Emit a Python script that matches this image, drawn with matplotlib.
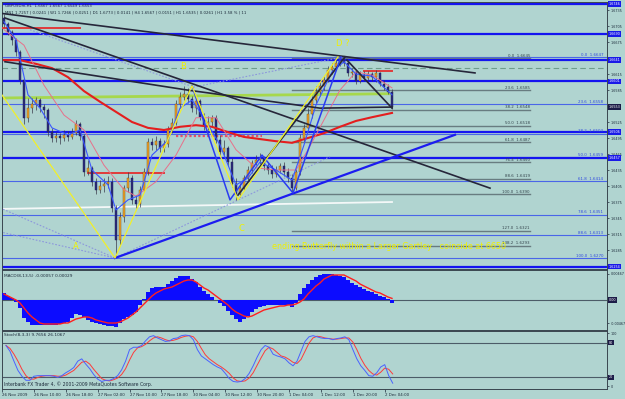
import matplotlib
matplotlib.use('Agg')
import matplotlib.pyplot as plt

plt.rcParams['font.family'] = 'DejaVu Sans'

BG = '#b0d4d0'
TXT = '#1c2a3a'

# GBPUSD H1, 26 Nov - 2 Dec 2009
first_open = 1.6720
closes = [1.6709, 1.6694, 1.6679, 1.6656, 1.6604, 1.6533, 1.6551, 1.6559, 1.6566, 1.6553,
          1.6548, 1.6506, 1.6495, 1.6499, 1.6495, 1.6501, 1.6497, 1.6504, 1.6521, 1.6499,
          1.6431, 1.6439, 1.6413, 1.6398, 1.6405, 1.6409, 1.6413, 1.6364, 1.6304, 1.6347,
          1.6401, 1.6420, 1.6379, 1.6371, 1.6398, 1.6431, 1.6488, 1.6482, 1.6489, 1.6476,
          1.6484, 1.6510, 1.6523, 1.6559, 1.6572, 1.6578, 1.6568, 1.6551, 1.6564, 1.6534,
          1.6518, 1.6525, 1.6533, 1.6491, 1.6469, 1.6476, 1.6450, 1.6409, 1.6390, 1.6401,
          1.6420, 1.6435, 1.6448, 1.6454, 1.6458, 1.6443, 1.6435, 1.6428, 1.6435, 1.6443,
          1.6431, 1.6420, 1.6401, 1.6431, 1.6495, 1.6514, 1.6540, 1.6566, 1.6581, 1.6593,
          1.6604, 1.6623, 1.6628, 1.6636, 1.6639, 1.6636, 1.6617, 1.6619, 1.6602, 1.6613,
          1.6608, 1.6615, 1.6609, 1.6617, 1.6596, 1.6591, 1.6581, 1.6553]
highs = [1.6728, 1.6713, 1.6698, 1.6683, 1.6660, 1.6608, 1.6570, 1.6570, 1.6572, 1.6570,
         1.6559, 1.6551, 1.6514, 1.6506, 1.6504, 1.6510, 1.6508, 1.6514, 1.6529, 1.6525,
         1.6503, 1.6454, 1.6443, 1.6420, 1.6416, 1.6420, 1.6424, 1.6420, 1.6369, 1.6356,
         1.6407, 1.6431, 1.6426, 1.6388, 1.6405, 1.6439, 1.6495, 1.6495, 1.6499, 1.6495,
         1.6491, 1.6518, 1.6533, 1.6566, 1.6581, 1.6593, 1.6589, 1.6574, 1.6570, 1.6568,
         1.6542, 1.6536, 1.6538, 1.6538, 1.6501, 1.6491, 1.6480, 1.6458, 1.6420, 1.6411,
         1.6426, 1.6443, 1.6454, 1.6463, 1.6467, 1.6461, 1.6450, 1.6444, 1.6443, 1.6448,
         1.6450, 1.6439, 1.6428, 1.6439, 1.6503, 1.6521, 1.6551, 1.6574, 1.6593, 1.6600,
         1.6611, 1.6630, 1.6636, 1.6641, 1.6647, 1.6647, 1.6641, 1.6626, 1.6623, 1.6621,
         1.6621, 1.6621, 1.6619, 1.6623, 1.6619, 1.6604, 1.6596, 1.6587]
lows = [1.6703, 1.6688, 1.6669, 1.6649, 1.6596, 1.6521, 1.6525, 1.6542, 1.6548, 1.6544,
        1.6533, 1.6499, 1.6488, 1.6488, 1.6484, 1.6489, 1.6489, 1.6493, 1.6501, 1.6491,
        1.6424, 1.6426, 1.6405, 1.6390, 1.6392, 1.6394, 1.6401, 1.6356, 1.6272, 1.6294,
        1.6338, 1.6394, 1.6371, 1.6364, 1.6366, 1.6394, 1.6426, 1.6473, 1.6473, 1.6469,
        1.6469, 1.6478, 1.6504, 1.6519, 1.6551, 1.6566, 1.6561, 1.6544, 1.6540, 1.6529,
        1.6510, 1.6510, 1.6518, 1.6486, 1.6461, 1.6463, 1.6443, 1.6403, 1.6379, 1.6384,
        1.6398, 1.6416, 1.6429, 1.6444, 1.6446, 1.6435, 1.6428, 1.6420, 1.6422, 1.6429,
        1.6424, 1.6413, 1.6392, 1.6398, 1.6426, 1.6488, 1.6506, 1.6533, 1.6561, 1.6574,
        1.6585, 1.6600, 1.6615, 1.6623, 1.6630, 1.6630, 1.6611, 1.6609, 1.6596, 1.6598,
        1.6602, 1.6604, 1.6602, 1.6600, 1.6593, 1.6585, 1.6578, 1.6549]
opens = [first_open] + closes[:-1]
bars = list(range(len(closes)))

# moving averages (sampled)
slow_ma_bars = [0, 4, 8, 12, 16, 20, 24, 28, 32, 36, 40, 44, 48, 52, 56, 60, 64, 68, 72, 76, 80, 84, 88, 92, 97]
slow_ma = [1.6641, 1.6641, 1.6634, 1.6626, 1.6609, 1.6583, 1.6563, 1.6544, 1.6525, 1.6514, 1.6510, 1.6516, 1.6519,
           1.6516, 1.6506, 1.6497, 1.6493, 1.6489, 1.6486, 1.6495, 1.6504, 1.6516, 1.6527, 1.6534, 1.6542]
red_ma_bars = [0, 5, 10, 15, 20, 25, 30, 33, 38, 43, 48, 53, 58, 63, 68, 73, 76, 80, 84, 88, 92, 97]
red_ma = [1.6698, 1.6669, 1.6594, 1.6538, 1.6510, 1.6444, 1.6398, 1.6386, 1.6413, 1.6463, 1.6533,
          1.6533, 1.6473, 1.6439, 1.6435, 1.6435, 1.6473, 1.6529, 1.6585, 1.6619, 1.6613, 1.6589]
blue_ma_bars = [0, 3, 6, 9, 12, 16, 19, 22, 26, 28, 31, 34, 37, 41, 44, 47, 50, 54, 58, 61,
                64, 68, 72, 75, 78, 82, 85, 88, 92, 97]
blue_ma = [1.6713, 1.6679, 1.6576, 1.6551, 1.6514, 1.6501, 1.6510, 1.6435, 1.6407, 1.6360,
           1.6379, 1.6388, 1.6463, 1.6491, 1.6551, 1.6566, 1.6533, 1.6482, 1.6407, 1.6420,
           1.6450, 1.6435, 1.6416, 1.6482, 1.6557, 1.6619, 1.6638, 1.6615, 1.6611, 1.6576]

# MACD(8,13,5)
macd_hist = [0.00126, 0.00072, 0.00036, -0.00036, -0.00144, -0.00324, -0.00396, -0.00450, -0.00450, -0.00450,
             -0.00450, -0.00450, -0.00450, -0.00450, -0.00432, -0.00414, -0.00396, -0.00324, -0.00252, -0.00270,
             -0.00306, -0.00360, -0.00396, -0.00414, -0.00432, -0.00450, -0.00468, -0.00468, -0.00486, -0.00414,
             -0.00342, -0.00306, -0.00270, -0.00216, -0.00090, 0.00010, 0.00144, 0.00216, 0.00234, 0.00234,
             0.00234, 0.00288, 0.00342, 0.00396, 0.00432, 0.00432, 0.00432, 0.00378, 0.00324, 0.00234,
             0.00162, 0.00108, 0.00054, -0.00005, -0.00054, -0.00108, -0.00198, -0.00270, -0.00342, -0.00396,
             -0.00342, -0.00288, -0.00216, -0.00162, -0.00126, -0.00108, -0.00090, -0.00090, -0.00090, -0.00090,
             -0.00090, -0.00090, -0.00126, -0.00054, 0.00108, 0.00216, 0.00288, 0.00360, 0.00414, 0.00450,
             0.00468, 0.00468, 0.00468, 0.00450, 0.00432, 0.00414, 0.00360, 0.00306, 0.00270, 0.00234,
             0.00198, 0.00162, 0.00144, 0.00108, 0.00072, 0.00054, 0.00018, -0.00057]
macd_signal = [0.00108, 0.00072, 0.00036, 0.00000, -0.00054, -0.00144, -0.00234, -0.00306, -0.00360, -0.00414,
               -0.00432, -0.00432, -0.00432, -0.00432, -0.00432, -0.00414, -0.00414, -0.00378, -0.00342, -0.00324,
               -0.00306, -0.00306, -0.00324, -0.00360, -0.00378, -0.00396, -0.00414, -0.00414, -0.00414, -0.00396,
               -0.00360, -0.00324, -0.00270, -0.00216, -0.00144, -0.00072, 0.00000, 0.00072, 0.00126, 0.00162,
               0.00198, 0.00216, 0.00234, 0.00270, 0.00306, 0.00342, 0.00360, 0.00360, 0.00324, 0.00270,
               0.00216, 0.00180, 0.00126, 0.00072, 0.00018, -0.00036, -0.00090, -0.00162, -0.00216, -0.00252,
               -0.00288, -0.00306, -0.00288, -0.00252, -0.00216, -0.00180, -0.00162, -0.00144, -0.00126, -0.00108,
               -0.00108, -0.00090, -0.00090, -0.00072, -0.00036, 0.00018, 0.00108, 0.00180, 0.00252, 0.00306,
               0.00378, 0.00414, 0.00450, 0.00450, 0.00450, 0.00450, 0.00414, 0.00378, 0.00342, 0.00288,
               0.00252, 0.00216, 0.00180, 0.00144, 0.00126, 0.00090, 0.00054, 0.00029]

# Stoch(8,3,3)
stoch_k = [75, 65, 48, 32, 22, 15, 15, 22, 23, 23, 23, 23, 22, 20, 23, 28, 32, 37, 48, 52,
           43, 35, 25, 17, 13, 15, 15, 18, 23, 33, 48, 68, 72, 72, 75, 83, 90, 92, 88, 85,
           82, 83, 87, 88, 92, 93, 92, 85, 68, 57, 52, 47, 42, 38, 35, 27, 18, 13, 12, 13,
           18, 27, 40, 55, 68, 75, 72, 60, 57, 55, 52, 45, 40, 48, 65, 82, 90, 92, 90, 88,
           87, 87, 85, 87, 88, 90, 85, 68, 52, 40, 32, 23, 22, 28, 38, 42, 23, 10]
stoch_d = [75, 70, 60, 48, 34, 23, 17, 17, 20, 22, 23, 23, 23, 22, 22, 24, 28, 32, 39, 46,
           48, 43, 34, 26, 18, 15, 14, 16, 19, 25, 35, 50, 63, 71, 73, 77, 83, 88, 90, 88,
           85, 83, 84, 86, 89, 91, 92, 90, 82, 70, 59, 52, 47, 42, 38, 33, 27, 19, 14, 13,
           14, 19, 28, 41, 54, 66, 72, 69, 63, 57, 55, 51, 46, 44, 51, 65, 79, 88, 91, 90,
           88, 87, 86, 86, 87, 88, 88, 81, 68, 53, 41, 32, 26, 24, 29, 36, 34, 26]

# drawn objects, anchors as (bar, price)
black_lines = [[(-1, 1.6729), (117.75, 1.6617)],
               [(0.25, 1.6720), (121.5, 1.6401)],
               [(0.25, 1.6638), (45.75, 1.6585), (79, 1.6551), (97, 1.6553)],
               [(58.5, 1.6388), (85.25, 1.6647)],
               [(85.75, 1.6641), (97, 1.6551)]]
blue_trend = [(27.75, 1.6270), (112.75, 1.6501)]
blue_zigzag = [(47, 1.6593), (56.5, 1.6379), (64.5, 1.6463), (72.25, 1.6392), (84.25, 1.6647)]
yellow_xabcd = [(-1, 1.6581), (27.75, 1.6270), (47, 1.6593), (58.5, 1.6379), (83.5, 1.6647)]
dotted_lines = [[(27.75, 1.6270), (81.5, 1.6460)],
                [(-1, 1.6364), (27.75, 1.6270)],
                [(-1, 1.6319), (27.75, 1.6270)],
                [(6.5, 1.6698), (46.5, 1.6593)],
                [(46.5, 1.6589), (84.75, 1.6647)]]
green_line = [(-1, 1.6570), (96.5, 1.6578)]
white_line = [(-1, 1.6362), (97, 1.6375)]
red_segments = [[(-1, 1.6701), (19, 1.6701)],
                [(21, 1.6429), (40, 1.6429)],
                [(90, 1.6621), (97, 1.6621)]]
red_dotted = [(43, 1.6499), (64.5, 1.6499)]
dashed_level = 1.6626

blue_levels = [1.6746, 1.6690, 1.6641, 1.6601, 1.6506, 1.6457, 1.6254]
current_price = 1.6553

left_fib_names = ['0.0', '23.6', '38.2', '50.0', '61.8', '76.4', '88.6', '100.0', '127.0', '138.2']
left_fib_prices = [1.6645, 1.6585, 1.6548, 1.6518, 1.6487, 1.6450, 1.6419, 1.6390, 1.6321, 1.6293]
right_fib_names = ['0.0', '23.6', '38.2', '50.0', '61.8', '78.6', '88.6', '100.0']
right_fib_prices = [1.6647, 1.6558, 1.6503, 1.6459, 1.6414, 1.6351, 1.6313, 1.6270]

price_ticks = [1.6735, 1.6705, 1.6675, 1.6645, 1.6615, 1.6585, 1.6555, 1.6525,
               1.6495, 1.6465, 1.6435, 1.6405, 1.6375, 1.6345, 1.6315, 1.6285]
time_bars = [-1, 7, 15, 23, 31, 39, 47, 55, 63, 71, 79, 87, 95]
time_labels = ['26 Nov 2009', '26 Nov 10:00', '26 Nov 18:00', '27 Nov 02:00', '27 Nov 10:00',
               '27 Nov 18:00', '30 Nov 04:00', '30 Nov 12:00', '30 Nov 20:00', '1 Dec 04:00',
               '1 Dec 12:00', '1 Dec 20:00', '2 Dec 04:00']

W, H = 625.0, 399.0
fig = plt.figure(figsize=(6.25, 3.99), dpi=100, facecolor=BG)


def pane(top, bottom):
    return fig.add_axes([2 / W, 1 - bottom / H, 605 / W, (bottom - top) / H], facecolor=BG)


ax = pane(2, 269)
axm = pane(270, 330)
axs = pane(331, 389)

for a in (ax, axm, axs):
    a.set_xlim(-0.5, 150.75)
    for s in a.spines.values():
        s.set_color('#3a4650')
        s.set_linewidth(0.7)
    a.yaxis.tick_right()
    a.tick_params(axis='y', labelsize=2.4, length=1.5, width=0.5, pad=1, colors=TXT)
    a.tick_params(axis='x', bottom=False, labelbottom=False)


def poly(a, pts, **kw):
    xs, ys = zip(*pts)
    a.plot(xs, ys, **kw)


def axis_box(a, y, text, fc):
    a.text(1.003, y, text, transform=a.get_yaxis_transform(), fontsize=2.4, color='white',
           va='center', ha='left', clip_on=False, zorder=10,
           bbox=dict(boxstyle='square,pad=0.25', fc=fc, ec='none'))


# ---- main pane ----
ax.set_ylim(1.62494, 1.67500)
# the terminal hides scale labels that sit under a price box
boxed = blue_levels + [current_price]
shown_ticks = [t for t in price_ticks if all(abs(t - b) > 0.0006 for b in boxed)]
ax.set_yticks(shown_ticks)
ax.set_yticklabels(['%.4f' % p for p in shown_ticks])

for p in right_fib_prices:
    ax.axhline(p, color='#4a66e8', lw=0.8, zorder=1)
for name, p in zip(right_fib_names, right_fib_prices):
    ax.text(149.8, p + 0.00008, '%s  %.4f' % (name, p), fontsize=2.9, color='#2f48e0',
            ha='right', va='bottom', zorder=6)
for p in left_fib_prices:
    ax.plot([72, 131.5], [p, p], color='#687c80', lw=1.0, zorder=1)
for name, p in zip(left_fib_names, left_fib_prices):
    ax.text(131.5, p + 0.00008, '%s  %.4f' % (name, p), fontsize=2.9, color='#34444c',
            ha='right', va='bottom', zorder=6)

for p in blue_levels:
    ax.axhline(p, color='#1414f0', lw=1.6, zorder=2)
ax.axhline(dashed_level, color='#6e9c8c', lw=0.8, dashes=(5, 3), zorder=2)

poly(ax, green_line, color='#a6d84c', lw=2.0, zorder=2)
poly(ax, white_line, color='#f4f8f8', lw=1.3, zorder=2)
for seg in red_segments:
    poly(ax, seg, color='#e03a3a', lw=1.4, zorder=3)
poly(ax, red_dotted, color='#e0506a', lw=1.6, ls=(0, (1, 1)), zorder=3)

for seg in dotted_lines:
    poly(ax, seg, color='#8c96dc', lw=0.8, ls=(0, (1.5, 1.5)), zorder=3)

# candles
up = [c >= o for o, c in zip(opens, closes)]
ax.vlines(bars, lows, highs, color='#3a3a4a', lw=0.5, zorder=4)
bottoms = [min(o, c) for o, c in zip(opens, closes)]
heights = [max(abs(c - o), 0.00005) for o, c in zip(opens, closes)]
ax.bar(bars, heights, bottom=bottoms, width=0.7,
       color=['#f2a428' if u else '#2c2c7c' for u in up],
       edgecolor=['#6a4a1a' if u else '#1c1c50' for u in up], linewidth=0.3, zorder=5)

ax.plot(slow_ma_bars, slow_ma, color='#e41e1e', lw=1.5, zorder=6)
ax.plot(red_ma_bars, red_ma, color='#e8708a', lw=0.7, zorder=6)
ax.plot(blue_ma_bars, blue_ma, color='#3a56ff', lw=0.8, zorder=6)

for seg in black_lines:
    poly(ax, seg, color='#26263a', lw=1.2, zorder=7)
poly(ax, blue_trend, color='#1c1cf0', lw=1.6, zorder=7)
poly(ax, blue_zigzag, color='#2a3cf0', lw=1.1, zorder=7)
poly(ax, yellow_xabcd, color='#f2f028', lw=0.9, zorder=7)

for label, b, p in [('B', 44.75, 1.6630), ('D ?', 84.75, 1.6673), ('A', 18, 1.6291), ('C', 59.25, 1.6326)]:
    ax.text(b, p, label, fontsize=6, color='#f0f000', ha='center', va='center', zorder=8)
ax.text(67, 1.6291, 'ending Butterfly within a Larger Gartley   coinside at 6650',
        fontsize=5.8, color='#f0f000', ha='left', va='center', zorder=8)

ax.text(0.005, 0.993, 'GBPUSDm,H1  1.6567 1.6567 1.6549 1.6553', transform=ax.transAxes,
        fontsize=2.8, color='#1c1c60', va='top', zorder=8)
ax.text(0.005, 0.968, 'MN1 1.7257 | 0.0241 | W1 1.7266 | 0.0251 | D1 1.6773 | 0.0141 | '
        'H4 1.6567 | 0.0151 | H1 1.6535 | 0.0261 | H1 3.58 % | 11', transform=ax.transAxes,
        fontsize=2.8, color=TXT, va='top', zorder=8)

for p in blue_levels:
    axis_box(ax, p, '%.4f' % p, '#1a1ae8')
axis_box(ax, current_price, '%.4f' % current_price, '#1c1c48')

# ---- MACD pane ----
axm.set_ylim(-0.0054, 0.0054)
axm.bar(bars, macd_hist, width=1.0, color='#0c0cff', zorder=3)
axm.plot(bars, macd_signal, color='#ff2020', lw=1.0, zorder=4)
axm.axhline(0, color='#4c5c68', lw=0.8, zorder=2)
axm.set_yticks([0.0047, -0.0042])
axm.set_yticklabels(['0.00467', '-0.00467'])
axis_box(axm, 0.0, '0.00', '#1c1c48')
axm.text(0.004, 0.93, 'MACD(8,13,5) -0.00057 0.00029', transform=axm.transAxes,
         fontsize=3.1, color=TXT, va='top')

# ---- Stochastic pane ----
axs.set_ylim(0, 100)
axs.axhline(80, color='#4c5c68', lw=0.8)
axs.axhline(20, color='#4c5c68', lw=0.8)
axs.plot(bars, stoch_k, color='#4a62ff', lw=0.7, zorder=4)
axs.plot(bars, stoch_d, color='#ff3a3a', lw=0.7, zorder=3)
axs.set_yticks([96, 5])
axs.set_yticklabels(['100', '0'])
axis_box(axs, 80, '80', '#1c1c48')
axis_box(axs, 20, '20', '#1c1c48')
axs.text(0.004, 0.96, 'Stoch(8,3,3) 9.7656 26.1067', transform=axs.transAxes,
         fontsize=3.1, color=TXT, va='top')
axs.text(0.004, 0.03, 'Interbank FX Trader 4, \u00a9 2001-2009 MetaQuotes Software Corp.',
         transform=axs.transAxes, fontsize=3.3, color=TXT, va='bottom')

axs.set_xticks(time_bars)
axs.set_xticklabels(time_labels)
axs.tick_params(axis='x', bottom=True, labelbottom=True, labelsize=2.9, length=2,
                width=0.5, pad=0.8, colors=TXT)
for t in axs.get_xticklabels():
    t.set_ha('left')

fig.savefig('out.png', dpi=100, facecolor=BG)
